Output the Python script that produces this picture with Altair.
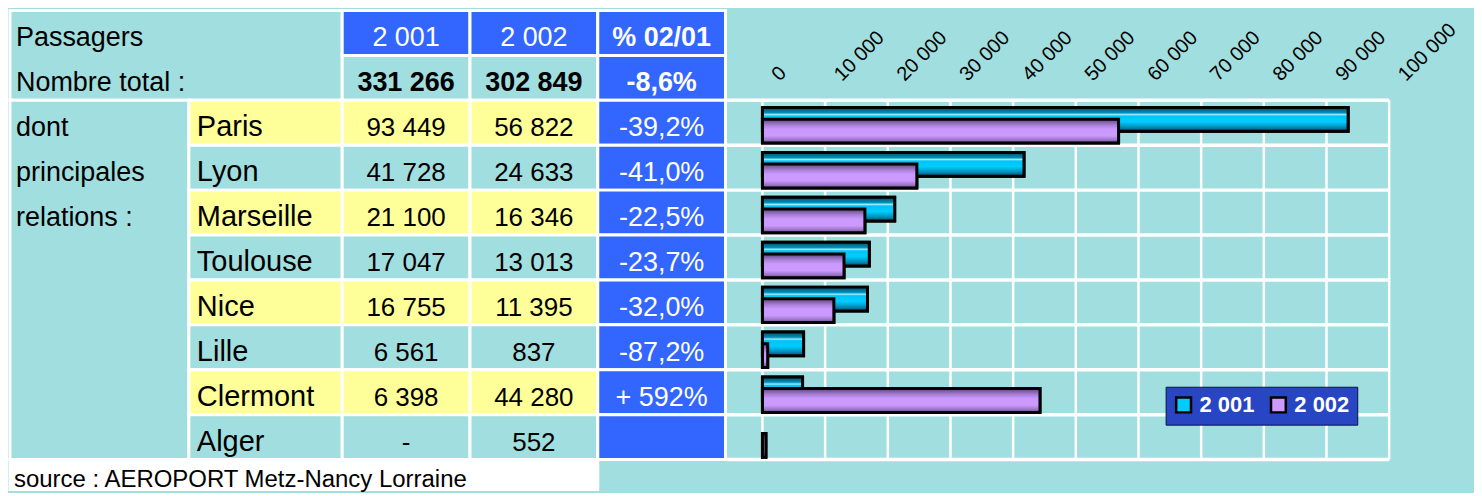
import altair as alt
import pandas as pd

# ---------------- data ----------------
CITIES = ["Paris", "Lyon", "Marseille", "Toulouse", "Nice", "Lille", "Clermont", "Alger"]
PAX_2001 = [93449, 41728, 21100, 17047, 16755, 6561, 6398, None]
PAX_2002 = [56822, 24633, 16346, 13013, 11395, 837, 44280, 552]
PCT_0201 = ["-39,2%", "-41,0%", "-22,5%", "-23,7%", "-32,0%", "-87,2%", "+ 592%", ""]
TOTALS = [331266, 302849]
TOTAL_PCT = "-8,6%"
YEARS = ["2 001", "2 002"]
HEADER_PCT = "% 02/01"
ROW_LABELS = ["Passagers", "Nombre total :"]
SIDE_LABELS = ["dont", "principales", "relations :"]
SOURCE = "source : AEROPORT Metz-Nancy Lorraine"
TICKS = [0, 10000, 20000, 30000, 40000, 50000, 60000, 70000, 80000, 90000, 100000]

# ---------------- style / layout ----------------
TEAL = "#A1DEDF"
BLUE = "#3366FF"
YELLOW = "#FFFF99"
WHITE = "#FFFFFF"
CYAN = "#00CCFF"
VIOLET = "#CC99FF"
FONT = "Liberation Sans"

ROW_H = 45
H = 480
NROWS = H / ROW_H
TABLE_W = 717
CHART_W = 665
GRID_UNITS = 28
COL = {"A": (0, 7), "B": (7, 13), "C": (13, 18), "D": (18, 23), "E": (23, 28)}
BASE = 0.8          # text baseline inside a row (fraction of row)
FIRST_ROW = 2       # first city row
LAST_ROW = 10       # bottom of city rows


def fmt(v):
    return "-" if v is None else f"{v:,}".replace(",", " ")


def mid(c):
    return (COL[c][0] + COL[c][1]) / 2


# ---------------- table ----------------
cells = []


def add_cell(c0, c1, r0, r1, fill):
    cells.append(dict(x0=c0, x1=c1, y0=r0, y1=r1, fill=fill))


add_cell(COL["A"][0], COL["B"][1], 0, 2, TEAL)
add_cell(*COL["C"], 0, 1, BLUE)
add_cell(*COL["C"], 1, 2, TEAL)
add_cell(*COL["D"], 0, 1, BLUE)
add_cell(*COL["D"], 1, 2, TEAL)
add_cell(*COL["E"], 0, 1, BLUE)
add_cell(*COL["E"], 1, 2, BLUE)
add_cell(*COL["A"], FIRST_ROW, LAST_ROW, TEAL)
for i, c in enumerate(CITIES):
    r = FIRST_ROW + i
    f = YELLOW if i % 2 == 0 else TEAL
    add_cell(*COL["B"], r, r + 1, f)
    add_cell(*COL["C"], r, r + 1, f)
    add_cell(*COL["D"], r, r + 1, f)
    add_cell(*COL["E"], r, r + 1, BLUE)
add_cell(COL["A"][0], COL["D"][1], LAST_ROW, NROWS, WHITE)
cells_df = pd.DataFrame(cells)

left_labels = [dict(x=COL["A"][0], y=r + BASE, text=t) for r, t in enumerate(ROW_LABELS)]
left_labels += [dict(x=COL["A"][0], y=FIRST_ROW + r + BASE, text=t) for r, t in enumerate(SIDE_LABELS)]
city_labels = [dict(x=COL["B"][0], y=FIRST_ROW + i + BASE, text=c) for i, c in enumerate(CITIES)]
nums = []
for i in range(len(CITIES)):
    nums.append(dict(x=mid("C"), y=FIRST_ROW + i + BASE, text=fmt(PAX_2001[i])))
    nums.append(dict(x=mid("D"), y=FIRST_ROW + i + BASE, text=fmt(PAX_2002[i])))
totals = [dict(x=mid("C"), y=1 + BASE, text=fmt(TOTALS[0])),
          dict(x=mid("D"), y=1 + BASE, text=fmt(TOTALS[1]))]
white_norm = [dict(x=mid("C"), y=BASE, text=YEARS[0]), dict(x=mid("D"), y=BASE, text=YEARS[1])]
white_norm += [dict(x=mid("E"), y=FIRST_ROW + i + BASE, text=p) for i, p in enumerate(PCT_0201) if p]
white_bold = [dict(x=mid("E"), y=BASE, text=HEADER_PCT), dict(x=mid("E"), y=1 + BASE, text=TOTAL_PCT)]
source = [dict(x=COL["A"][0], y=LAST_ROW + 0.62, text=SOURCE)]

xs = alt.Scale(domain=[0, GRID_UNITS], nice=False, zero=False)
ys = alt.Scale(domain=[0, NROWS], nice=False, zero=False, reverse=True)

rects = alt.Chart(cells_df).mark_rect(stroke=WHITE, strokeWidth=3).encode(
    x=alt.X("x0:Q", scale=xs, axis=None), x2="x1:Q",
    y=alt.Y("y0:Q", scale=ys, axis=None), y2="y1:Q",
    fill=alt.Fill("fill:N", scale=None),
)


def text_layer(rows, align="center", weight="normal", color="black", size=27, dx=0):
    return alt.Chart(pd.DataFrame(rows)).mark_text(
        align=align, baseline="alphabetic", font=FONT, fontWeight=weight,
        color=color, fontSize=size, dx=dx,
    ).encode(
        x=alt.X("x:Q", scale=xs, axis=None),
        y=alt.Y("y:Q", scale=ys, axis=None),
        text="text:N",
    )


table = alt.layer(
    rects,
    text_layer(left_labels, align="left", size=27, dx=6),
    text_layer(city_labels, align="left", size=29, dx=8),
    text_layer(nums, size=26),
    text_layer(totals, weight="bold", size=27),
    text_layer(white_norm, color="white", size=27),
    text_layer(white_bold, weight="bold", color="white", size=27),
    text_layer(source, align="left", size=24, dx=4),
).properties(width=TABLE_W, height=H)

# ---------------- bar chart ----------------
bar_rows = []
for i, c in enumerate(CITIES):
    for y, v in zip(YEARS, (PAX_2001[i], PAX_2002[i])):
        if v is not None:
            bar_rows.append(dict(city=c, row=FIRST_ROW + i, year=y, value=v))
bars_df = pd.DataFrame(bar_rows)
ticks_df = pd.DataFrame({"v": TICKS, "label": [fmt(t) for t in TICKS]})
bounds_df = pd.DataFrame({"r": list(range(FIRST_ROW, LAST_ROW + 1))})

cx = alt.Scale(domain=[0, 100000], range=[37, CHART_W], nice=False, zero=False)
cy = alt.Scale(domain=[0, NROWS], nice=False, zero=False, reverse=True)

hgrid = alt.Chart(bounds_df).mark_rule(color=WHITE, strokeWidth=3.5).encode(
    y=alt.Y("r:Q", scale=cy, axis=None)
)
vgrid = alt.Chart(ticks_df).mark_rule(color=WHITE, strokeWidth=2.5).encode(
    x=alt.X("v:Q", scale=cx, axis=None),
    y=alt.Y(datum=FIRST_ROW, scale=cy, axis=None),
    y2=alt.Y2(datum=LAST_ROW),
)

bars = alt.Chart(bars_df).transform_calculate(
    b0=f"datum.row + (datum.year === '{YEARS[0]}' ? 0.16 : 0.42)",
    b1=f"datum.row + (datum.year === '{YEARS[0]}' ? 0.69 : 0.95)",
)
enc = dict(
    x=alt.X("value:Q", scale=cx, axis=None),
    x2=alt.X2(datum=0),
    y=alt.Y("b0:Q", scale=cy, axis=None),
    y2="b1:Q",
)

flat = bars.mark_rect(stroke="black", strokeWidth=3).encode(
    color=alt.Color(
        "year:N",
        scale=alt.Scale(domain=YEARS, range=[CYAN, VIOLET]),
        legend=alt.Legend(
            title=None, orient="none", legendX=TABLE_W + 441, legendY=377,
            direction="horizontal",
            fillColor="#2845C4", strokeColor="#0A1440", padding=7,
            labelColor="white", labelFont=FONT, labelFontWeight="bold", labelFontSize=22,
            labelOffset=5, columnPadding=10, symbolType="square", symbolSize=220,
            symbolStrokeColor="black", symbolStrokeWidth=2.5, symbolOpacity=1,
        ),
    ),
    **enc,
)

grad_cyan = alt.LinearGradient(
    gradient="linear", x1=0, x2=0, y1=0, y2=1,
    stops=[
        alt.GradientStop(offset=0, color="#004A66"),
        alt.GradientStop(offset=0.22, color="#0090BB"),
        alt.GradientStop(offset=0.3, color="#9EEBFF"),
        alt.GradientStop(offset=0.36, color="#00C4F5"),
        alt.GradientStop(offset=0.6, color="#00CCFF"),
        alt.GradientStop(offset=0.82, color="#0090BB"),
        alt.GradientStop(offset=1, color="#004A66"),
    ],
)
grad_violet = alt.LinearGradient(
    gradient="linear", x1=0, x2=0, y1=0, y2=1,
    stops=[
        alt.GradientStop(offset=0, color="#5E4480"),
        alt.GradientStop(offset=0.25, color="#A87FD6"),
        alt.GradientStop(offset=0.42, color="#CC99FF"),
        alt.GradientStop(offset=0.7, color="#CC99FF"),
        alt.GradientStop(offset=0.88, color="#9A74C4"),
        alt.GradientStop(offset=1, color="#5E4480"),
    ],
)

g2001 = bars.transform_filter(f"datum.year === '{YEARS[0]}'").mark_rect(
    fill=grad_cyan, stroke="black", strokeWidth=3).encode(**enc)
g2002 = bars.transform_filter(f"datum.year === '{YEARS[1]}'").mark_rect(
    fill=grad_violet, stroke="black", strokeWidth=3).encode(**enc)

labels = alt.Chart(ticks_df).mark_text(
    angle=315, align="left", baseline="middle", font=FONT, fontSize=20,
    color="black", dx=9, dy=9,
).encode(
    x=alt.X("v:Q", scale=cx, axis=None),
    y=alt.Y(datum=1.5, scale=cy, axis=None),
    text="label:N",
)

bar_chart = alt.layer(hgrid, vgrid, flat, g2001, g2002, labels).properties(
    width=CHART_W, height=H
)

chart = alt.hconcat(table, bar_chart, spacing=0, bounds="flush").properties(
    background=TEAL,
    padding={"left": 0, "top": 0, "right": 14, "bottom": 0},
).configure_view(stroke=None)

chart.save("out.html", embed_options={"renderer": "svg", "actions": False})
